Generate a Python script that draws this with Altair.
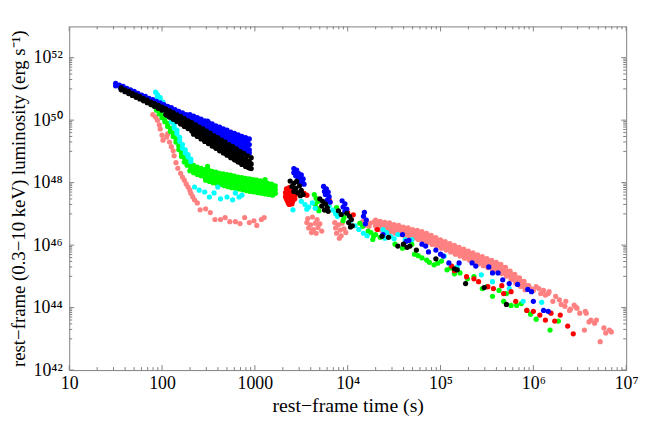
import altair as alt
import pandas as pd

# Values: (log10 rest-frame time [s], log10 luminosity [erg/s])
pink = [
    (1.90, 50.18), (1.93, 50.10), (1.95, 50.00), (1.97, 49.85), (1.98, 49.72), (2.00, 49.52), (2.01, 49.36),
    (2.05, 49.46), (2.06, 49.56), (2.08, 49.30), (2.10, 49.15), (2.12, 49.02), (2.13, 48.86), (2.15, 48.64),
    (2.17, 48.46), (2.20, 48.30), (2.22, 48.18), (2.24, 48.08), (2.26, 47.96), (2.28, 47.86), (2.30, 47.76),
    (2.31, 47.66), (2.33, 47.55), (2.35, 47.45), (2.38, 47.35),
    (2.41, 47.13), (2.47, 47.16), (2.52, 47.04), (2.57, 46.82), (2.63, 46.82), (2.68, 46.88), (2.73, 46.75),
    (2.79, 46.75), (2.84, 46.69), (2.89, 46.88), (2.94, 46.72), (2.99, 46.78), (3.02, 46.63), (3.07, 46.82),
    (3.10, 46.88),
    (3.57, 46.85), (3.62, 46.90), (3.67, 46.82), (3.56, 46.72), (3.60, 46.65), (3.65, 46.70), (3.70, 46.68),
    (3.58, 46.55), (3.63, 46.50), (3.68, 46.56), (3.72, 46.45), (3.61, 46.40), (3.66, 46.38),
    (3.86, 46.72), (3.90, 46.65), (3.94, 46.70), (3.87, 46.55), (3.92, 46.48), (3.96, 46.52), (3.88, 46.38),
    (3.93, 46.30), (3.98, 46.40), (3.91, 46.22),
    (4.16, 46.75), (4.20, 46.80), (4.24, 46.70), (4.28, 46.74), (4.18, 46.62), (4.23, 46.60), (4.30, 46.62),
    (4.30, 46.80), (4.32, 46.68), (4.31, 46.52), (4.35, 46.76), (4.37, 46.62), (4.36, 46.48),
    (4.40, 46.73), (4.42, 46.60), (4.41, 46.45), (4.45, 46.71), (4.47, 46.56), (4.46, 46.42),
    (4.50, 46.66), (4.52, 46.53), (4.51, 46.38), (4.55, 46.63), (4.57, 46.49), (4.56, 46.34),
    (4.60, 46.58), (4.62, 46.45), (4.61, 46.30), (4.65, 46.55), (4.67, 46.41), (4.66, 46.26),
    (4.70, 46.50), (4.72, 46.37), (4.71, 46.22), (4.75, 46.47), (4.77, 46.32), (4.76, 46.18),
    (4.80, 46.43), (4.82, 46.28), (4.81, 46.13), (4.85, 46.38), (4.87, 46.23), (4.86, 46.08),
    (4.90, 46.31), (4.92, 46.17), (4.91, 46.02), (4.95, 46.24), (4.97, 46.10), (4.96, 45.96),
    (5.00, 46.17), (5.02, 46.04), (5.01, 45.90), (5.05, 46.11), (5.07, 45.97), (5.06, 45.84),
    (5.10, 46.05), (5.12, 45.91), (5.11, 45.78), (5.15, 45.99), (5.17, 45.85), (5.16, 45.71),
    (5.20, 45.93), (5.22, 45.79), (5.21, 45.65), (5.25, 45.87), (5.27, 45.73), (5.26, 45.58),
    (5.30, 45.81), (5.32, 45.67), (5.31, 45.52), (5.35, 45.75), (5.37, 45.61), (5.36, 45.46),
    (5.40, 45.69), (5.42, 45.55), (5.41, 45.40), (5.45, 45.63), (5.47, 45.49), (5.46, 45.34),
    (5.50, 45.57), (5.52, 45.43), (5.51, 45.28), (5.55, 45.51), (5.57, 45.37), (5.56, 45.22),
    (5.60, 45.45), (5.62, 45.31), (5.61, 45.16), (5.65, 45.38), (5.67, 45.24), (5.66, 45.09),
    (5.70, 45.29), (5.72, 45.15), (5.71, 45.01), (5.75, 45.17), (5.77, 45.04), (5.76, 44.90),
    (5.80, 45.06), (5.82, 44.93), (5.81, 44.79), (5.85, 44.95), (5.87, 44.82), (5.86, 44.68),
    (5.90, 44.84), (5.92, 44.71), (5.91, 44.57),
    (4.33, 46.74), (4.33, 46.60), (4.38, 46.70), (4.38, 46.56), (4.43, 46.66), (4.43, 46.52),
    (4.48, 46.63), (4.48, 46.48), (4.53, 46.59), (4.53, 46.44), (4.58, 46.55), (4.58, 46.40),
    (4.63, 46.51), (4.63, 46.36), (4.68, 46.47), (4.68, 46.32), (4.73, 46.43), (4.73, 46.28),
    (4.78, 46.39), (4.78, 46.24), (4.83, 46.34), (4.83, 46.19), (4.88, 46.28), (4.88, 46.13),
    (4.93, 46.21), (4.93, 46.06), (4.98, 46.14), (4.98, 46.00), (5.03, 46.08), (5.03, 45.94),
    (5.08, 46.02), (5.08, 45.88), (5.13, 45.96), (5.13, 45.81), (5.18, 45.90), (5.18, 45.75),
    (5.23, 45.84), (5.23, 45.69), (5.28, 45.78), (5.28, 45.63), (5.33, 45.72), (5.33, 45.57),
    (5.38, 45.66), (5.38, 45.51), (5.43, 45.60), (5.43, 45.45), (5.48, 45.54), (5.48, 45.39),
    (5.53, 45.48), (5.53, 45.33), (5.58, 45.42), (5.58, 45.27), (5.63, 45.35), (5.63, 45.20),
    (5.68, 45.27), (5.68, 45.12), (5.73, 45.16), (5.73, 45.02), (5.78, 45.05), (5.78, 44.91),
    (5.83, 44.94), (5.83, 44.80), (5.88, 44.83), (5.88, 44.69),
    (5.95, 44.70), (5.98, 44.60), (6.00, 44.55), (6.03, 44.67), (6.06, 44.61), (6.08, 44.45),
    (6.11, 44.55), (6.13, 44.40), (6.16, 44.45), (6.17, 44.51), (6.21, 44.20), (6.24, 44.36),
    (6.28, 44.25), (6.30, 44.10), (6.34, 44.04), (6.35, 44.20), (6.39, 43.91), (6.40, 43.95),
    (6.44, 44.08), (6.46, 44.01), (6.47, 43.98), (6.50, 43.82), (6.55, 43.28), (6.56, 43.88),
    (6.57, 43.82), (6.60, 43.54), (6.62, 43.60), (6.66, 43.50), (6.68, 43.60), (6.72, 42.91),
    (6.76, 43.35), (6.78, 43.19), (6.82, 43.28), (6.84, 43.22),
]

green = [
    (1.91, 50.46), (1.94, 50.40), (1.94, 50.32), (1.97, 50.30), (1.97, 50.20), (2.00, 50.18), (2.00, 50.08),
    (2.03, 50.05), (2.03, 49.95), (2.06, 49.90), (2.06, 49.80), (2.09, 49.74), (2.09, 49.64),
    (2.12, 49.58), (2.12, 49.48), (2.15, 49.40), (2.15, 49.30), (2.18, 49.18), (2.18, 49.06),
    (2.21, 48.96), (2.21, 48.84), (2.24, 48.80), (2.24, 48.66), (2.27, 48.68), (2.27, 48.56),
    (2.30, 48.60), (2.31, 48.48), (2.30, 48.38), (2.34, 48.55), (2.35, 48.42), (2.34, 48.32),
    (2.38, 48.50), (2.39, 48.38), (2.38, 48.26), (2.42, 48.46), (2.43, 48.34), (2.42, 48.22),
    (2.46, 48.42), (2.47, 48.30), (2.46, 48.18), (2.47, 48.08),
    (2.50, 48.40), (2.51, 48.27), (2.50, 48.15), (2.51, 48.04),
    (2.54, 48.36), (2.55, 48.24), (2.54, 48.12), (2.55, 48.00),
    (2.58, 48.34), (2.59, 48.20), (2.58, 48.08), (2.59, 47.97),
    (2.62, 48.30), (2.63, 48.17), (2.62, 48.05), (2.63, 47.94),
    (2.66, 48.28), (2.67, 48.14), (2.66, 48.02), (2.67, 47.90),
    (2.70, 48.26), (2.71, 48.12), (2.70, 47.99), (2.71, 47.87),
    (2.74, 48.24), (2.75, 48.10), (2.74, 47.97), (2.75, 47.84),
    (2.78, 48.21), (2.79, 48.07), (2.78, 47.94), (2.79, 47.82),
    (2.82, 48.18), (2.83, 48.04), (2.82, 47.92), (2.83, 47.80),
    (2.86, 48.16), (2.87, 48.02), (2.86, 47.89), (2.87, 47.77),
    (2.90, 48.14), (2.91, 48.00), (2.90, 47.87), (2.91, 47.74),
    (2.94, 48.12), (2.95, 47.98), (2.94, 47.85), (2.95, 47.72),
    (2.98, 48.10), (2.99, 47.96), (2.98, 47.83), (2.99, 47.70),
    (3.02, 48.08), (3.03, 47.94), (3.02, 47.80), (3.03, 47.68),
    (3.06, 48.06), (3.07, 47.92), (3.06, 47.78), (3.07, 47.66),
    (3.10, 48.02), (3.11, 47.90), (3.10, 47.76), (3.11, 47.64),
    (3.14, 47.98), (3.15, 47.86), (3.14, 47.73), (3.15, 47.62),
    (3.18, 47.95), (3.19, 47.82), (3.18, 47.70), (3.19, 47.60),
    (3.22, 47.90), (3.22, 47.78), (3.22, 47.66), (2.49, 48.52), (3.11, 48.10),
    (2.48, 48.35), (2.48, 48.22), (2.48, 48.10), (2.52, 48.32), (2.52, 48.19), (2.52, 48.06),
    (2.56, 48.29), (2.56, 48.16), (2.56, 48.03), (2.60, 48.26), (2.60, 48.12), (2.60, 48.00),
    (2.64, 48.23), (2.64, 48.09), (2.64, 47.97), (2.68, 48.21), (2.68, 48.07), (2.68, 47.94),
    (2.72, 48.19), (2.72, 48.05), (2.72, 47.92), (2.76, 48.16), (2.76, 48.02), (2.76, 47.89),
    (2.80, 48.13), (2.80, 47.99), (2.80, 47.86), (2.84, 48.11), (2.84, 47.97), (2.84, 47.84),
    (2.88, 48.09), (2.88, 47.95), (2.88, 47.81), (2.92, 48.07), (2.92, 47.93), (2.92, 47.79),
    (2.96, 48.05), (2.96, 47.91), (2.96, 47.77), (3.00, 48.03), (3.00, 47.89), (3.00, 47.75),
    (3.04, 48.01), (3.04, 47.87), (3.04, 47.73), (3.08, 47.98), (3.08, 47.85), (3.08, 47.71),
    (3.12, 47.95), (3.12, 47.82), (3.12, 47.68), (3.16, 47.92), (3.16, 47.78), (3.16, 47.65),
    (3.20, 47.88), (3.20, 47.75), (3.20, 47.63),
    (3.64, 47.62), (3.66, 47.50), (3.68, 47.40), (3.65, 47.30), (3.67, 47.18), (3.69, 47.10),
    (3.88, 47.20), (3.90, 47.08), (3.93, 46.98), (3.96, 46.88), (3.95, 46.78),
    (4.13, 46.70), (4.16, 46.60), (4.22, 46.45), (4.25, 46.40), (4.28, 46.28), (4.27, 46.18),
    (4.30, 46.34), (4.35, 46.25), (4.51, 46.03), (4.59, 45.90), (4.69, 46.03), (4.72, 45.71),
    (4.80, 45.59), (4.85, 45.52), (4.93, 45.37), (5.01, 45.49), (5.07, 45.21), (5.11, 45.27),
    (5.15, 45.08), (5.21, 45.11), (5.29, 44.92), (5.36, 44.99), (5.45, 44.61), (5.50, 44.67),
    (5.56, 44.36), (5.63, 44.55), (5.68, 44.20), (5.71, 44.45), (5.76, 44.07), (5.82, 44.07),
    (5.87, 44.13), (5.93, 43.91), (5.97, 43.79), (6.03, 43.63), (6.18, 43.28), (6.27, 43.57),
    (4.76, 45.66), (4.88, 45.45), (4.97, 45.42),
]

cyan = [
    (1.93, 50.90), (1.95, 50.82), (1.95, 50.74), (1.98, 50.72), (1.98, 50.62), (2.01, 50.58), (2.01, 50.48),
    (2.04, 50.40), (2.04, 50.28), (2.07, 50.22), (2.07, 50.12), (2.10, 50.04), (2.10, 49.94),
    (2.13, 49.85), (2.13, 49.75), (2.16, 49.68), (2.16, 49.58), (2.19, 49.45), (2.19, 49.33),
    (2.22, 49.22), (2.22, 49.10), (2.25, 49.05), (2.25, 48.95), (2.28, 48.90), (2.28, 48.82),
    (2.31, 48.75), (2.31, 48.68),
    (2.35, 47.86), (2.40, 47.76), (2.46, 47.70), (2.51, 47.54), (2.56, 47.67), (2.60, 47.86),
    (2.63, 47.48), (2.70, 47.54), (2.76, 47.45), (2.79, 47.67), (2.83, 47.54), (2.86, 47.60),
    (3.41, 47.13),
    (3.50, 47.40), (3.54, 47.30), (3.58, 47.22), (3.62, 47.35), (3.65, 47.18), (3.56, 47.15),
    (3.80, 47.25), (3.84, 47.12), (3.87, 47.00), (3.89, 46.92),
    (4.03, 46.78), (4.08, 46.62), (4.12, 46.50), (4.17, 46.38), (4.21, 46.30),
    (4.38, 46.50), (4.42, 46.40), (4.46, 46.28), (4.50, 46.20), (4.40, 46.22),
    (4.54, 46.34), (4.62, 46.18), (4.69, 46.18), (5.04, 45.65), (5.18, 45.30), (5.44, 45.05),
    (5.56, 44.83), (5.74, 44.61), (5.89, 44.20), (6.09, 44.17),
]

red = [
    (3.34, 47.80), (3.37, 47.84), (3.40, 47.80), (3.33, 47.68), (3.36, 47.70), (3.39, 47.66), (3.42, 47.70),
    (3.33, 47.55), (3.36, 47.56), (3.39, 47.52), (3.42, 47.55), (3.35, 47.42), (3.38, 47.40), (3.41, 47.42),
    (3.37, 47.30), (3.40, 47.32), (3.44, 47.62), (3.35, 47.75), (3.38, 47.62), (3.41, 47.61),
    (3.34, 47.48), (3.37, 47.48), (3.40, 47.47), (3.43, 47.48), (3.36, 47.35), (3.39, 47.36),
    (3.53, 47.66), (3.56, 47.60), (3.80, 47.45), (3.81, 47.38), (4.00, 47.04), (4.06, 46.97), (4.32, 46.50),
    (5.12, 45.33), (5.15, 45.18), (5.28, 44.99), (5.36, 44.92), (5.41, 44.83), (5.51, 44.67),
    (5.57, 44.61), (5.66, 44.70), (5.68, 44.45), (5.76, 44.51), (5.81, 44.20), (5.93, 43.91),
    (6.00, 43.88), (6.07, 43.76), (6.13, 43.60), (6.19, 43.82), (6.23, 43.57), (6.29, 43.76),
    (6.37, 43.41), (6.43, 43.16),
]

blue = [
    (1.50, 51.18), (1.50, 51.10), (1.54, 51.12), (1.55, 51.04), (1.58, 51.08), (1.59, 50.99),
    (1.62, 51.02), (1.63, 50.94), (1.66, 50.97), (1.67, 50.88), (1.70, 50.92), (1.71, 50.83),
    (1.74, 50.86), (1.75, 50.78), (1.78, 50.80), (1.79, 50.72), (1.82, 50.76), (1.83, 50.66),
    (1.86, 50.70), (1.87, 50.62), (1.90, 50.66), (1.91, 50.55), (1.94, 50.60), (1.95, 50.50),
    (1.98, 50.55), (1.99, 50.44), (2.02, 50.50), (2.03, 50.39), (2.06, 50.44), (2.07, 50.34),
    (2.10, 50.40), (2.11, 50.28), (2.14, 50.34), (2.15, 50.22), (2.18, 50.28), (2.19, 50.18),
    (2.22, 50.23), (2.23, 50.12), (2.26, 50.18), (2.27, 50.06),
    (2.30, 50.18), (2.31, 50.07), (2.30, 49.96), (2.34, 50.13), (2.35, 50.02), (2.34, 49.90),
    (2.38, 50.08), (2.39, 49.96), (2.38, 49.84),
    (2.42, 50.03), (2.43, 49.91), (2.42, 49.79), (2.43, 49.70),
    (2.46, 49.98), (2.47, 49.85), (2.46, 49.73), (2.47, 49.63),
    (2.50, 49.93), (2.51, 49.80), (2.50, 49.68), (2.51, 49.56),
    (2.54, 49.88), (2.55, 49.75), (2.54, 49.62), (2.55, 49.50),
    (2.58, 49.82), (2.59, 49.69), (2.58, 49.56), (2.59, 49.43),
    (2.62, 49.78), (2.63, 49.64), (2.62, 49.50), (2.63, 49.37),
    (2.66, 49.72), (2.67, 49.58), (2.66, 49.44), (2.67, 49.30),
    (2.70, 49.68), (2.71, 49.53), (2.70, 49.38), (2.71, 49.24),
    (2.74, 49.62), (2.75, 49.47), (2.74, 49.32), (2.75, 49.17),
    (2.78, 49.58), (2.79, 49.42), (2.78, 49.26), (2.79, 49.10),
    (2.82, 49.53), (2.83, 49.37), (2.82, 49.21), (2.83, 49.05),
    (2.86, 49.48), (2.87, 49.31), (2.86, 49.14), (2.87, 48.98),
    (2.90, 49.44), (2.91, 49.26), (2.90, 49.09), (2.91, 48.93),
    (2.94, 49.40), (2.94, 49.22), (2.94, 49.05), (2.94, 48.95), (2.49, 49.97),
    (2.32, 50.11), (2.32, 49.99), (2.32, 49.87), (2.36, 50.06), (2.36, 49.94), (2.36, 49.82),
    (2.40, 50.00), (2.40, 49.88), (2.40, 49.76), (2.40, 49.68),
    (2.44, 49.95), (2.44, 49.83), (2.44, 49.71), (2.44, 49.60),
    (2.48, 49.90), (2.48, 49.78), (2.48, 49.66), (2.48, 49.54),
    (2.52, 49.84), (2.52, 49.72), (2.52, 49.60), (2.52, 49.48),
    (2.56, 49.79), (2.56, 49.67), (2.56, 49.55), (2.56, 49.42),
    (2.60, 49.73), (2.60, 49.61), (2.60, 49.49), (2.60, 49.36),
    (2.64, 49.68), (2.64, 49.56), (2.64, 49.44), (2.64, 49.30),
    (2.68, 49.62), (2.68, 49.50), (2.68, 49.38), (2.68, 49.24),
    (2.72, 49.57), (2.72, 49.45), (2.72, 49.32), (2.72, 49.18),
    (2.76, 49.52), (2.76, 49.39), (2.76, 49.25), (2.76, 49.12),
    (2.80, 49.46), (2.80, 49.33), (2.80, 49.19), (2.80, 49.05),
    (2.84, 49.41), (2.84, 49.28), (2.84, 49.13), (2.84, 49.00),
    (2.88, 49.36), (2.88, 49.22), (2.88, 49.07), (2.88, 48.96),
    (2.92, 49.31), (2.92, 49.17), (2.92, 49.02), (2.92, 48.94),
    (3.42, 48.45), (3.45, 48.40), (3.47, 48.30), (3.44, 48.22), (3.48, 48.15), (3.50, 48.25),
    (3.46, 48.08), (3.51, 48.02), (3.53, 47.95), (3.49, 47.97), (3.52, 48.12), (3.42, 48.32),
    (3.74, 47.88), (3.77, 47.80), (3.79, 47.70), (3.76, 47.62), (3.80, 47.55), (3.78, 47.45),
    (3.81, 47.38), (3.75, 47.72),
    (3.94, 47.42), (3.97, 47.32), (3.95, 47.22), (3.99, 47.15), (3.97, 47.08),
    (4.18, 47.05), (4.17, 46.92), (4.20, 46.80), (4.19, 46.68),
    (4.38, 46.34), (4.59, 46.34), (4.63, 46.12), (4.66, 46.15), (4.80, 46.03), (4.84, 45.97),
    (4.87, 45.78), (4.95, 45.84), (5.00, 45.71), (5.03, 45.65), (5.09, 45.43), (5.20, 45.43),
    (5.34, 45.43), (5.38, 45.33), (5.52, 45.30), (5.56, 45.11), (5.62, 45.11), (5.67, 44.89),
    (5.74, 44.77), (5.83, 44.74), (5.94, 44.58), (5.98, 44.51), (6.00, 44.20), (6.11, 43.91),
    (6.16, 43.88),
]

black = [
    (1.56, 51.03), (1.56, 50.97), (1.60, 50.97), (1.60, 50.91), (1.64, 50.92), (1.64, 50.85),
    (1.68, 50.86), (1.68, 50.79), (1.72, 50.80), (1.72, 50.73), (1.76, 50.75), (1.76, 50.68),
    (1.80, 50.69), (1.80, 50.62), (1.84, 50.64), (1.84, 50.56), (1.88, 50.58), (1.88, 50.50),
    (1.92, 50.53), (1.92, 50.44), (1.96, 50.47), (1.96, 50.38), (2.00, 50.42), (2.00, 50.32),
    (2.04, 50.36), (2.05, 50.26), (2.04, 50.18), (2.08, 50.30), (2.09, 50.20), (2.08, 50.10),
    (2.12, 50.24), (2.13, 50.14), (2.12, 50.03), (2.16, 50.17), (2.17, 50.07), (2.16, 49.96),
    (2.20, 50.12), (2.21, 50.00), (2.20, 49.88), (2.24, 50.05), (2.25, 49.92), (2.24, 49.80),
    (2.28, 49.98), (2.29, 49.85), (2.28, 49.73), (2.32, 49.92), (2.33, 49.78), (2.32, 49.65),
    (2.36, 49.85), (2.37, 49.70), (2.36, 49.56), (2.40, 49.78), (2.41, 49.63), (2.40, 49.49),
    (2.44, 49.72), (2.45, 49.56), (2.44, 49.41), (2.48, 49.65), (2.49, 49.48), (2.48, 49.34),
    (2.52, 49.58), (2.53, 49.41), (2.52, 49.26), (2.56, 49.50), (2.57, 49.33), (2.56, 49.18),
    (2.60, 49.44), (2.61, 49.26), (2.60, 49.10), (2.64, 49.36), (2.65, 49.19), (2.64, 49.03),
    (2.68, 49.30), (2.69, 49.11), (2.68, 48.95), (2.72, 49.22), (2.73, 49.04), (2.72, 48.88),
    (2.76, 49.15), (2.77, 48.97), (2.76, 48.80), (2.80, 49.08), (2.81, 48.89), (2.80, 48.72),
    (2.84, 49.00), (2.85, 48.82), (2.84, 48.65), (2.88, 48.94), (2.89, 48.75), (2.88, 48.58),
    (2.92, 48.86), (2.93, 48.67), (2.92, 48.50), (2.96, 48.80), (2.96, 48.60), (2.96, 48.45),
    (2.06, 50.27), (2.06, 50.15), (2.10, 50.21), (2.10, 50.09), (2.14, 50.14), (2.14, 50.02),
    (2.18, 50.08), (2.18, 49.95), (2.22, 50.00), (2.22, 49.88), (2.26, 49.93), (2.26, 49.80),
    (2.30, 49.86), (2.30, 49.73), (2.34, 49.78), (2.34, 49.65), (2.34, 49.55),
    (2.38, 49.71), (2.38, 49.58), (2.38, 49.48), (2.42, 49.64), (2.42, 49.51), (2.42, 49.40),
    (2.46, 49.57), (2.46, 49.43), (2.46, 49.32), (2.50, 49.49), (2.50, 49.36), (2.50, 49.25),
    (2.54, 49.42), (2.54, 49.28), (2.54, 49.17), (2.58, 49.34), (2.58, 49.21), (2.58, 49.10),
    (2.62, 49.27), (2.62, 49.14), (2.62, 49.02), (2.66, 49.20), (2.66, 49.06), (2.66, 48.95),
    (2.70, 49.12), (2.70, 48.99), (2.70, 48.88), (2.74, 49.05), (2.74, 48.92), (2.74, 48.80),
    (2.78, 48.98), (2.78, 48.84), (2.78, 48.73), (2.82, 48.90), (2.82, 48.77), (2.82, 48.66),
    (2.86, 48.83), (2.86, 48.70), (2.86, 48.58), (2.90, 48.76), (2.90, 48.62), (2.90, 48.52),
    (2.94, 48.68), (2.94, 48.55), (2.94, 48.47),
    (3.38, 48.05), (3.42, 47.98), (3.45, 48.04), (3.40, 47.88), (3.44, 47.82), (3.48, 47.90),
    (3.50, 47.75), (3.46, 47.68), (3.52, 47.62), (3.42, 47.72), (3.49, 47.58),
    (3.70, 47.48), (3.73, 47.40), (3.76, 47.32), (3.72, 47.25), (3.78, 47.20), (3.75, 47.12),
    (3.79, 47.08), (3.90, 47.10), (3.93, 46.98),
    (3.99, 47.02), (4.02, 46.92), (4.04, 46.82), (4.01, 46.72), (4.05, 46.62), (4.03, 46.58),
    (4.37, 46.28), (4.44, 46.25), (4.54, 45.97), (4.60, 46.03), (4.64, 45.93), (4.67, 45.97),
    (4.74, 45.84), (4.95, 45.56), (5.15, 45.24), (5.18, 45.21), (5.27, 44.77), (5.47, 44.64),
    (5.71, 44.10),
]

series_order = ["pink", "green", "cyan", "red", "blue", "black"]
series_colors = ["#ff8080", "#00ff00", "#00ffff", "#ff0000", "#0000ff", "#000000"]
series_data = {"pink": pink, "green": green, "cyan": cyan, "red": red, "blue": blue, "black": black}

x_tick_values = [10, 100, 1000, 1e4, 1e5, 1e6, 1e7]
y_tick_values = [1e42, 1e44, 1e46, 1e48, 1e50, 1e52]
x_minor = [k * 10.0 ** n for n in range(1, 7) for k in range(2, 10)]
y_minor = [k * 10.0 ** n for n in (43, 45, 47, 49, 51) for k in range(1, 10)]

rows = []
i = 0
for name in series_order:
    for lt, lL in series_data[name]:
        rows.append({"t": 10 ** lt, "L": 10 ** lL, "series": name, "idx": i})
        i += 1
df = pd.DataFrame(rows)

W, H = 564, 348
FONT = "Liberation Serif"
GRAY = "#808080"

xscale = alt.Scale(type="log", domain=[10, 1e7], nice=False)
yscale = alt.Scale(type="log", domain=[1e42, 1e53], nice=False)

xaxis = alt.Axis(
    values=x_tick_values,
    labelExpr="datum.value <= 1000 ? format(datum.value, 'd') : '10' + ['⁴','⁵','⁶','⁷'][round(log(datum.value)/LN10) - 4]",
    title="rest−frame time (s)", ticks=False, domain=False, grid=False,
    labelFont=FONT, labelFontSize=18, labelColor="black", labelPadding=5,
    labelFlush=False, labelOverlap=False,
    titleFont=FONT, titleFontSize=20, titleFontWeight="normal", titleColor="black", titlePadding=3,
)
yaxis = alt.Axis(
    values=y_tick_values,
    labelExpr="'10' + ['⁴²','⁴³','⁴⁴','⁴⁵','⁴⁶','⁴⁷','⁴⁸','⁴⁹','⁵⁰','⁵¹','⁵²','⁵³'][round(log(datum.value)/LN10) - 42]",
    title="rest−frame (0.3−10 keV) luminosity (erg s⁻¹)", ticks=False, domain=False, grid=False,
    labelFont=FONT, labelFontSize=18, labelColor="black", labelPadding=7,
    labelFlush=False, labelOverlap=False,
    titleFont=FONT, titleFontSize=19, titleFontWeight="normal", titleColor="black", titlePadding=4,
    titleLimit=1000,
)

points = alt.Chart(df).mark_circle(size=28, opacity=1).encode(
    x=alt.X("t:Q", scale=xscale, axis=xaxis),
    y=alt.Y("L:Q", scale=yscale, axis=yaxis),
    color=alt.Color("series:N", scale=alt.Scale(domain=series_order, range=series_colors), legend=None),
    order=alt.Order("idx:Q"),
)

xmaj_df = pd.DataFrame({"t": x_tick_values})
xmin_df = pd.DataFrame({"t": x_minor})
ymaj_df = pd.DataFrame({"L": y_tick_values})
ymin_df = pd.DataFrame({"L": y_minor})


def xticks(data, length, top):
    y0 = 0 if top else H
    y1 = length if top else H - length
    return alt.Chart(data).mark_rule(color=GRAY, strokeWidth=1).encode(
        x=alt.X("t:Q", scale=xscale, axis=xaxis), y=alt.value(y0), y2=alt.value(y1))


def yticks(data, length, right):
    x0 = W if right else 0
    x1 = W - length if right else length
    return alt.Chart(data).mark_rule(color=GRAY, strokeWidth=1).encode(
        y=alt.Y("L:Q", scale=yscale, axis=yaxis), x=alt.value(x0), x2=alt.value(x1))


layers = [
    xticks(xmaj_df, 5, False), xticks(xmaj_df, 5, True),
    xticks(xmin_df, 3, False), xticks(xmin_df, 3, True),
    yticks(ymaj_df, 5, False), yticks(ymaj_df, 5, True),
    yticks(ymin_df, 3, False), yticks(ymin_df, 3, True),
    points,
]

chart = alt.layer(*layers).properties(
    width=W, height=H,
    autosize=alt.AutoSizeParams(type="none"),
    padding={"left": 62, "top": 16, "right": 14, "bottom": 56},
    background="white",
).configure_view(stroke=GRAY, strokeWidth=1)

chart.save("out.html", embed_options={"renderer": "svg", "actions": False})
